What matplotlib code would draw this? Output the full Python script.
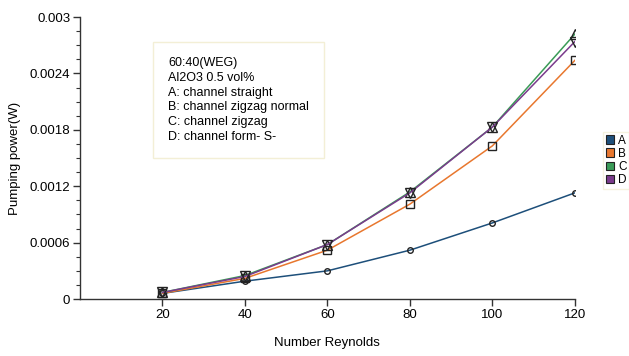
import matplotlib.pyplot as plt
from matplotlib.patches import Patch
from matplotlib.ticker import MultipleLocator

plt.rcParams['font.family'] = ['Liberation Sans', 'DejaVu Sans']

reynolds = [20, 40, 60, 80, 100, 120]
power_a = [0.00006, 0.00019, 0.00030, 0.00052, 0.00081, 0.00113]
power_b = [0.00006, 0.00022, 0.00052, 0.00101, 0.00163, 0.00254]
power_c = [0.00007, 0.00025, 0.00058, 0.00114, 0.00183, 0.00282]
power_d = [0.00007, 0.00024, 0.00058, 0.00113, 0.00183, 0.00274]

names = ['A', 'B', 'C', 'D']
colors = ['#1d4f7a', '#e8772e', '#3a9b57', '#7a3b8c']
markers = ['o', 's', '^', 'v']
sizes = [4, 6, 6.5, 6.5]
ytick_vals = [0, 0.0006, 0.0012, 0.0018, 0.0024, 0.003]
ytick_labels = ['0', '0.0006', '0.0012', '0.0018', '0.0024', '0.003']

fig = plt.figure(figsize=(6.29, 3.56), dpi=100)
ax = fig.add_axes([0.127, 0.16, 0.787, 0.792])

for y, c, m, s in zip([power_a, power_b, power_c, power_d], colors, markers, sizes):
    ax.plot(reynolds, y, color=c, lw=1.1, marker=m, ms=s,
            mfc='none', mec='#222222', mew=1.0, zorder=3)

ax.set_xlim(0, 120)
ax.set_ylim(0, 0.003)
ax.set_xticks(reynolds)
ax.set_yticks(ytick_vals)
ax.set_yticklabels(ytick_labels)
ax.yaxis.set_minor_locator(MultipleLocator(0.00015))

for s in ['top', 'right']:
    ax.spines[s].set_visible(False)
for s in ['left', 'bottom']:
    ax.spines[s].set_color('#333333')
    ax.spines[s].set_linewidth(1.0)
ax.tick_params(axis='both', which='major', length=5, width=1.0,
               color='#333333', labelsize=9.5, pad=2)
ax.tick_params(axis='y', which='minor', length=3, width=0.8, color='#333333')

ax.set_xlabel('Number Reynolds', fontsize=9.5, labelpad=12)
ax.set_ylabel('Pumping power(W)', fontsize=9.5, labelpad=6)

# parameters of the test case, boxed in the upper left of the plot
info = ('60:40(WEG)\nAl2O3 0.5 vol%\nA: channel straight\n'
        'B: channel zigzag normal\nC: channel zigzag\nD: channel form- S-')
ax.text(0.178, 0.858, info, transform=ax.transAxes, fontsize=9,
        va='top', ha='left', linespacing=1.3,
        bbox=dict(boxstyle='square,pad=1.2', fc='white', ec='#f3efd6', lw=1))

handles = [Patch(fc=c, ec='#222222', lw=0.8) for c in colors]
fig.legend(handles, names, loc='upper left', bbox_to_anchor=(0.958, 0.63),
           frameon=True, fontsize=8.5, handlelength=0.75, handleheight=0.75,
           handletextpad=0.3, labelspacing=0.1, borderpad=0.25,
           edgecolor='#f3efd6', fancybox=False, borderaxespad=0)

fig.savefig('out.png', dpi=100)
